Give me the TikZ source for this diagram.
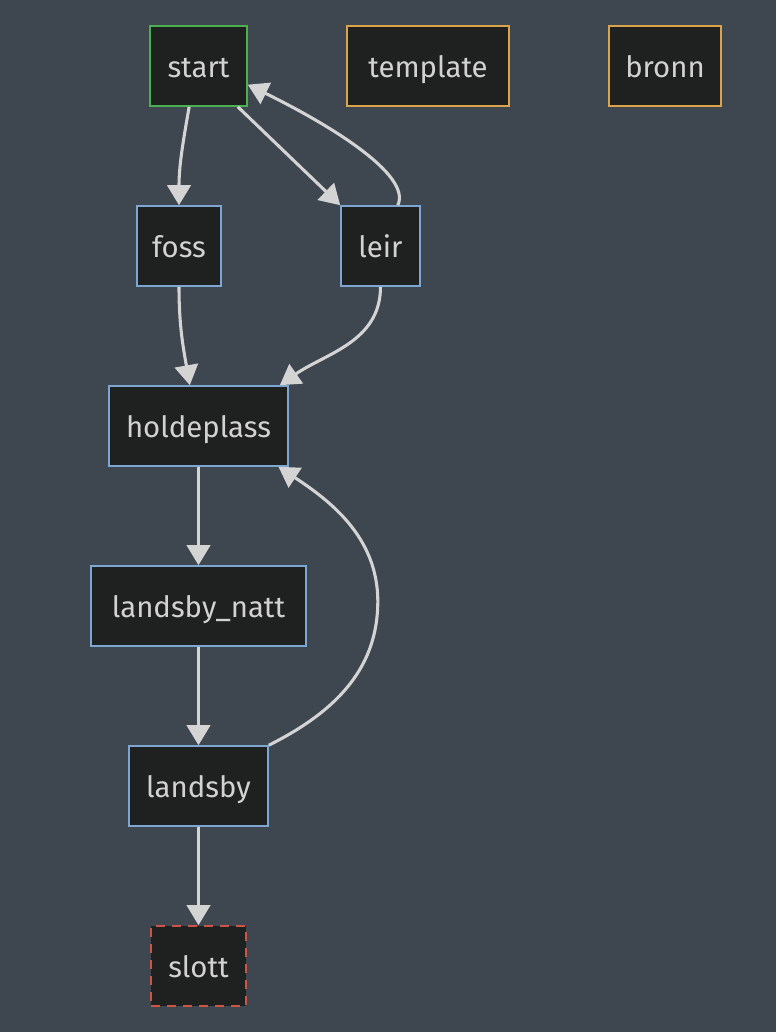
\documentclass[tikz,border=0pt]{standalone}
\usepackage{fontspec}
\setmainfont{Fira Sans}
\usetikzlibrary{
	calc,
	arrows.meta,
	positioning
	}
\definecolor{fond}{HTML}{3E4650}
\definecolor{remplissage}{HTML}{1F2121}
\definecolor{texte}{HTML}{D2D2D2}
\definecolor{trait}{HTML}{D4D4D4}
\definecolor{vert}{HTML}{4CAF50}
\definecolor{or}{HTML}{D9A44A}
\definecolor{bleu}{HTML}{7EA6D2}
\definecolor{rouge}{HTML}{CC5544}
\tikzset{font={\fontsize{22pt}{26}\selectfont}}
\tikzstyle{noeud-std}=[draw=bleu,fill=remplissage,text=texte,rectangle,line width=1.2pt,inner sep=0pt,minimum height=60pt,text height=16.5pt,text depth=0pt]
\tikzstyle{arc-std}=[draw=trait,line width=2.3pt,-{Triangle[length=15pt,width=17.5pt]}]
\tikzset{boite/.style={minimum width=#1*0.75pt}}

\begin{document}
\begin{tikzpicture}[x=0.75pt,y=-0.75pt]
            \fill[fond] (0,0) rectangle (776,1032);
            \useasboundingbox (0,0) rectangle (776,1032);
            %
            \node[noeud-std, draw=vert, boite=97] (start) at (198.5,66) {start};
            \node[noeud-std, draw=or, boite=162] (template) at (428,66) {template};
            \node[noeud-std, draw=or, boite=112] (bronn) at (665,66) {bronn};
            \node[noeud-std, boite=84] (foss) at (179,246) {foss};
            \node[noeud-std, boite=79] (leir) at (380.5,246) {leir};
            \node[noeud-std, boite=179] (holdeplass) at (198.5,426) {holdeplass};
            \node[noeud-std, boite=215] (landsby_natt) at (198.5,606) {landsby\_natt};
            \node[noeud-std, boite=139] (landsby) at (198.5,786) {landsby};
            \node[noeud-std, draw=rouge, dashed, dash pattern=on 7pt off 5pt, boite=95] (slott) at (198.5,966) {slott};
            %
            \draw[arc-std] ([xshift=-7pt]start.south) to[out=-100,in=90] (foss.north);
            \draw[arc-std] ([xshift=29.5pt]start.south) -- (leir.north west);
            \draw[arc-std] ([xshift=13pt]leir.north) .. controls (412,175) and (330,125) .. ([yshift=-14pt]start.east);
            \draw[arc-std] (foss.south) to[out=-90,in=100] ([xshift=-6.5pt]holdeplass.north);
            \draw[arc-std] (leir.south) to[out=-90,in=35] ([xshift=61pt]holdeplass.north);
            \draw[arc-std] (holdeplass) -- (landsby_natt);
            \draw[arc-std] (landsby_natt) -- (landsby);
            \draw[arc-std] (landsby.north east) .. controls +(70,-35) and +(0,65) .. ++(109,-144)
               .. controls +(0,-65) and +(50,33) .. ([xshift=60pt]holdeplass.south);
            \draw[arc-std] (landsby) -- (slott);
        \end{tikzpicture}
\end{document}
